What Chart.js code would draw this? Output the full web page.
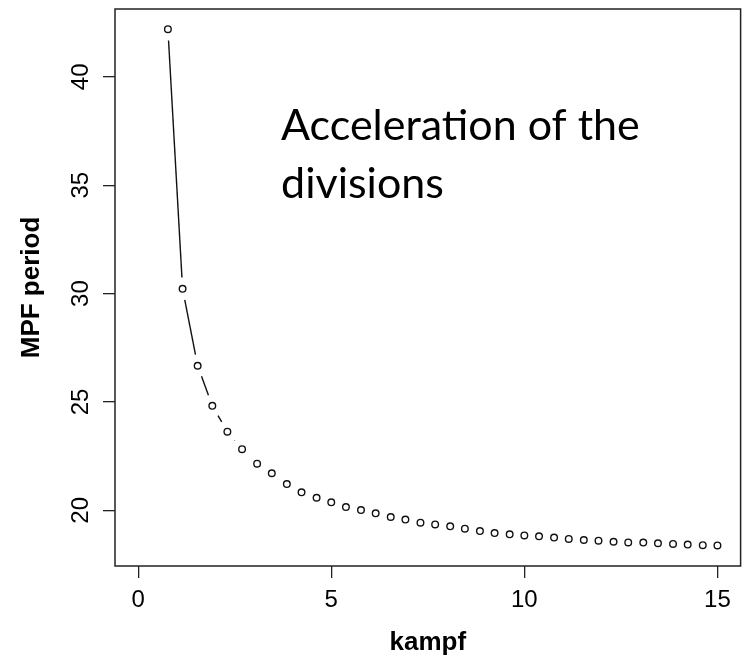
<!DOCTYPE html>
<html>
<head>
<meta charset="utf-8">
<script src="https://cdn.jsdelivr.net/npm/chart.js@4.4.1/dist/chart.umd.min.js"></script>
<style>
  html, body { margin: 0; padding: 0; background: #fff; }
</style>
</head>
<body>
<canvas id="mpfChart" width="746" height="660"></canvas>
<script>
const kampf = [
  0.77, 1.15, 1.54, 1.92, 2.31, 2.69, 3.08, 3.46, 3.85, 4.23,
  4.62, 5.00, 5.38, 5.77, 6.15, 6.54, 6.92, 7.31, 7.69, 8.08,
  8.46, 8.85, 9.23, 9.62, 10.00, 10.38, 10.77, 11.15, 11.54, 11.92,
  12.31, 12.69, 13.08, 13.46, 13.85, 14.23, 14.62, 15.00
];
const mpfPeriod = [
  42.20, 30.22, 26.67, 24.82, 23.63, 22.82, 22.15, 21.71, 21.21, 20.83,
  20.58, 20.37, 20.15, 20.01, 19.86, 19.69, 19.57, 19.43, 19.35, 19.26,
  19.15, 19.04, 18.95, 18.89, 18.84, 18.80, 18.74, 18.68, 18.63, 18.60,
  18.55, 18.52, 18.51, 18.48, 18.45, 18.42, 18.39, 18.38
];
const xTicks = [0, 5, 10, 15];
const yTicks = [20, 25, 30, 35, 40];
const noteLines = ["Acceleration of the", "divisions"];

// R style: segments stop short of each point, plus the box and the note
const rPlotExtras = {
  id: "rPlotExtras",
  afterDatasetsDraw(chart) {
    const ctx = chart.ctx;
    const pts = chart.getDatasetMeta(0).data;
    const gap = 11.3;
    ctx.save();
    ctx.strokeStyle = "#111";
    ctx.lineWidth = 1.4;
    for (let i = 0; i < pts.length - 1; i++) {
      let dx = pts[i + 1].x - pts[i].x;
      let dy = pts[i + 1].y - pts[i].y;
      let len = Math.sqrt(dx * dx + dy * dy);
      if (len <= 2 * gap) continue;
      let ux = dx / len, uy = dy / len;
      ctx.beginPath();
      ctx.moveTo(pts[i].x + ux * gap, pts[i].y + uy * gap);
      ctx.lineTo(pts[i + 1].x - ux * gap, pts[i + 1].y - uy * gap);
      ctx.stroke();
    }

    let a = chart.chartArea;
    ctx.strokeStyle = "#222";
    ctx.lineWidth = 1.5;
    ctx.strokeRect(a.left, a.top, a.right - a.left, a.bottom - a.top);

    // rotated y tick labels
    let ys = chart.scales.y;
    ctx.fillStyle = "#000";
    ctx.font = "24px 'Liberation Sans'";
    ctx.textAlign = "center";
    ctx.textBaseline = "middle";
    yTicks.forEach((v) => {
      ctx.save();
      ctx.translate(a.left - 34, ys.getPixelForValue(v));
      ctx.rotate(-Math.PI / 2);
      ctx.fillText(String(v), 0, 0);
      ctx.restore();
    });

    // note text
    let xs = chart.scales.x;
    ctx.font = "43px Lato";
    ctx.textAlign = "left";
    ctx.textBaseline = "alphabetic";
    ctx.fillText(noteLines[0], xs.getPixelForValue(3.7), ys.getPixelForValue(37.1));
    ctx.fillText(noteLines[1], xs.getPixelForValue(3.7), ys.getPixelForValue(34.41));
    ctx.restore();
  },
};

new Chart(document.getElementById("mpfChart").getContext("2d"), {
  type: "scatter",
  data: {
    datasets: [
      {
        label: "MPF period",
        data: kampf.map((x, i) => ({ x: x, y: mpfPeriod[i] })),
        showLine: false,
        pointRadius: 3.3,
        pointBorderWidth: 1.4,
        pointBorderColor: "#111",
        pointBackgroundColor: "rgba(0,0,0,0)",
      },
    ],
  },
  options: {
    responsive: false,
    animation: false,
    devicePixelRatio: 1,
    layout: { padding: { top: 9, right: 5, left: 0, bottom: 0 } },
    plugins: {
      legend: { display: false },
      tooltip: { enabled: false },
    },
    scales: {
      x: {
        type: "linear",
        min: -0.6,
        max: 15.6,
        afterBuildTicks: (s) => { s.ticks = xTicks.map((v) => ({ value: v })); },
        afterFit: (s) => { s.height = 94; },
        border: { display: false },
        grid: { drawOnChartArea: false, tickLength: 12, color: "#222", lineWidth: 1.3 },
        ticks: {
          color: "#000",
          padding: 8,
          maxRotation: 0,
          font: { family: "'Liberation Sans'", size: 24 },
        },
        title: {
          display: true,
          text: "kampf",
          color: "#000",
          font: { family: "'Liberation Sans'", size: 26, weight: "bold" },
          padding: { top: 0, bottom: 2 },
        },
      },
      y: {
        type: "linear",
        min: 17.43,
        max: 43.13,
        afterBuildTicks: (s) => { s.ticks = yTicks.map((v) => ({ value: v })); },
        afterFit: (s) => { s.width = 115; },
        border: { display: false },
        grid: { drawOnChartArea: false, tickLength: 12, color: "#222", lineWidth: 1.3 },
        ticks: { display: false },
        title: {
          display: true,
          text: "MPF period",
          color: "#000",
          font: { family: "'Liberation Sans'", size: 26, weight: "bold" },
          padding: { top: 16, bottom: 0 },
        },
      },
    },
  },
  plugins: [rPlotExtras],
});
</script>
</body>
</html>
